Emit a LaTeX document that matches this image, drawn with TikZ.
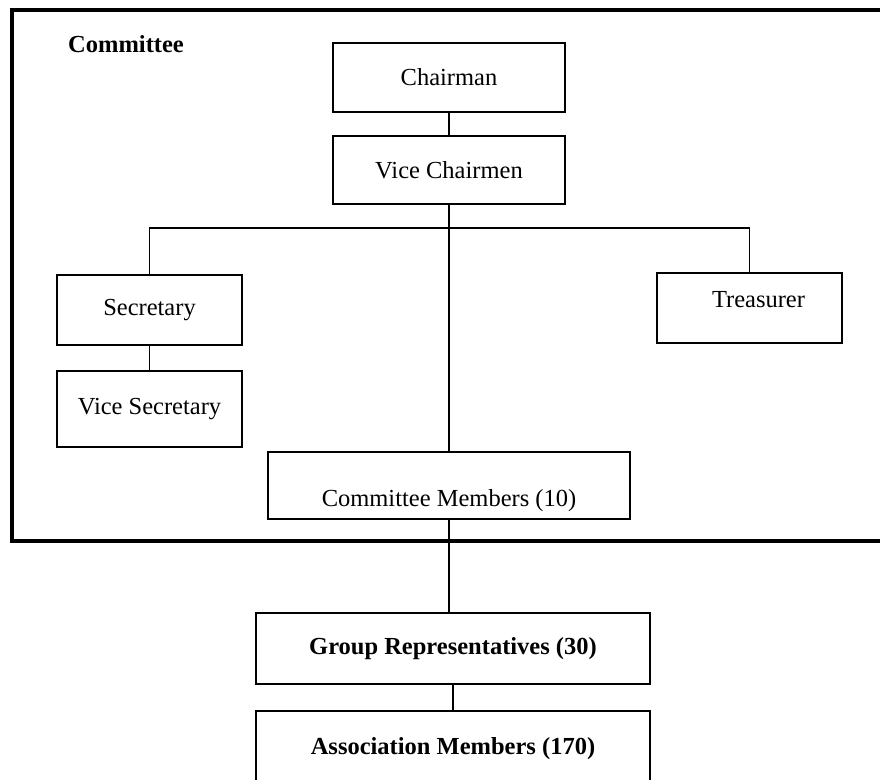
\documentclass[tikz,border=0pt]{standalone}
\usepackage{fontspec}
\setmainfont{Liberation Serif}
\usetikzlibrary{calc}

\begin{document}
\begin{tikzpicture}[x=1pt,y=-1pt,
  every node/.style={font=\fontsize{24.5}{28}\selectfont, inner sep=0pt},
  post/.style={draw, line width=1.7pt, rectangle},
  bigpost/.style={draw, line width=2.8pt, rectangle, font=\fontsize{24.5}{28}\selectfont\bfseries},
  link/.style={line width=1.7pt},
  frame/.style={line width=3.2pt}
]
\useasboundingbox (0,0) rectangle (880,779);

% committee frame, open on the right
\draw[frame] (895,10) -- (12,10) -- (12,541) -- (895,541);
\node[anchor=base west, font=\fontsize{24.5}{28}\selectfont\bfseries] (ctitle) at (68,52) {Committee};

% committee posts
\node[post, minimum width=232, minimum height=69] (chair) at (449,77.5) {Chairman};
\node[post, minimum width=232, minimum height=68] (vice) at (449,170) {Vice Chairmen};
\node[post, minimum width=185, minimum height=70] (sec) at (149.5,310) {Secretary};
\node[post, minimum width=185, minimum height=76] (vsec) at (149.5,409) {Vice Secretary};
\node[post, minimum width=185, minimum height=70, text height=0.7em, text depth=0.2em+6pt] (tre) at (749.5,308) {\hspace*{18pt}Treasurer};
\node[post, minimum width=362, minimum height=67, text height=0.7em+37pt, text depth=0.2em] (members) at (449,485.5) {Committee Members (10)};

% wider membership
\node[bigpost, minimum width=394, minimum height=71] (groups) at (453,648.5) {Group Representatives (30)};
\node[bigpost, minimum width=394, minimum height=76] (assoc) at (453,749) {Association Members (170)};

% connectors
\coordinate (bus) at (449,228);
\draw[link] (chair) -- (vice);
\draw[link] (vice) -- (members);
\draw[link] (sec.north) |- (bus) -| (tre.north);
\draw[link] (sec) -- (vsec);
\draw[link] (members.south) -- (members.south |- groups.north);
\draw[link] (groups.south) -- (groups.south |- assoc.north);
\end{tikzpicture}
\end{document}
